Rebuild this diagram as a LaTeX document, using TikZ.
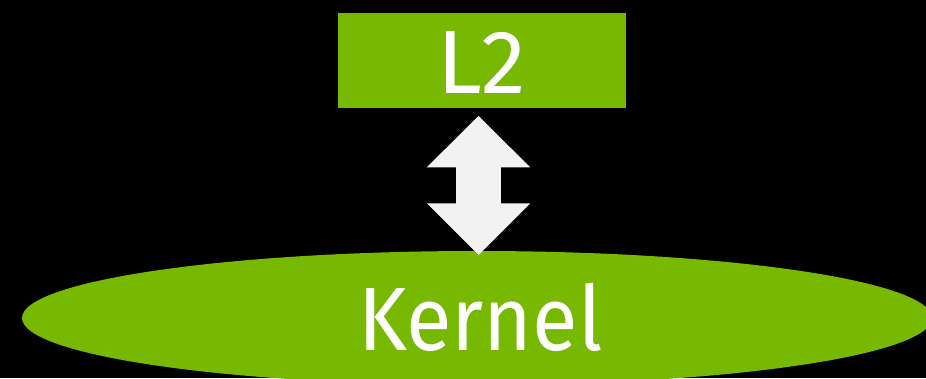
\documentclass[tikz,border=0pt]{standalone}
\usepackage{fontspec}
\setmainfont{Fira Sans}
\newfontfamily\narrowfira{Fira Sans}[FakeStretch=0.925]
\usetikzlibrary{shapes.geometric,calc}
\definecolor{nvgreen}{HTML}{76B900}
\definecolor{arrowgray}{HTML}{F2F2F2}
\tikzset{
  label text/.style={text=white, font=\fontsize{90}{90}\selectfont,
    text height=65pt, text depth=0pt, inner sep=0pt},
  greenbox/.style={label text, fill=nvgreen, rectangle,
    minimum width=288pt, minimum height=95pt},
  greenoval/.style={label text, font=\narrowfira\fontsize{90}{90}\selectfont,
    fill=nvgreen, ellipse, minimum width=910pt, minimum height=134pt},
  bigarrow/.style={fill=arrowgray, draw=none}
}
\begin{document}
\begin{tikzpicture}[x=1pt, y=-1pt]
  % black page
  \fill[black] (0,0) rectangle (926,378);
  \useasboundingbox (0,0) rectangle (926,378);

  % the two blocks
  \node[greenbox] (l2) at (481.5,60.5) {L2};
  \node[greenoval] (kernel) at (477,318) {};
  \node[label text, font=\narrowfira\fontsize{90}{90}\selectfont]
    (kerneltext) at (480.5,318) {Kernel};

  % double-headed block arrow between them
  \coordinate (top) at (478.5,116);
  \coordinate (bot) at (478.5,255);
  \fill[bigarrow] (top)
    -- ++(51.7,51.3) -- ++(-29.3,0)
    -- ($(bot)+(22.4,-51.7)$) -- ++(29.3,0)
    -- (bot)
    -- ++(-51.7,-51.7) -- ++(29.3,0)
    -- ($(top)+(-22.4,51.3)$) -- ++(-29.3,0)
    -- cycle;
\end{tikzpicture}
\end{document}
